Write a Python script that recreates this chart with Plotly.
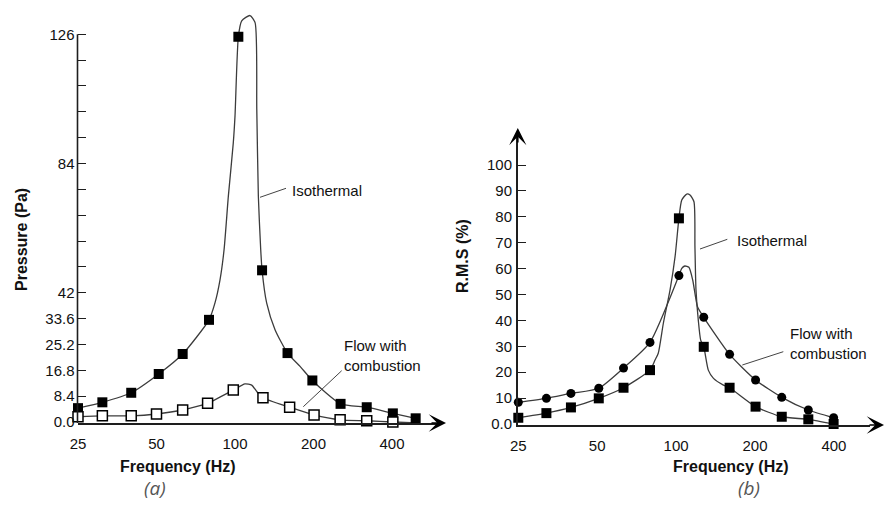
import math
import plotly.graph_objects as go

# ---------------- data ----------------
# Panel (a): pressure amplitude (Pa) vs frequency (Hz)
freq_a_iso = [25, 31, 40, 51, 63, 79.5, 103, 127, 159, 198, 254, 320, 403, 493]
pa_iso = [4.5, 6.4, 9.5, 15.6, 22.1, 33.2, 125.2, 49.3, 22.4, 13.5, 5.9, 4.8, 2.8, 1.2]

freq_a_comb = [25, 31, 40, 50, 63, 78.5, 98.5, 128, 162, 201, 253, 320, 403, 497]
pa_comb = [1.7, 2.0, 2.0, 2.6, 3.9, 6.1, 10.4, 7.9, 4.8, 2.3, 0.7, 0.4, 0.0, -1.0]

# fitted curves drawn through the points (panel a)
curve_a_iso_f = [25, 31, 40, 51, 63, 79.5, 83.8, 87.6, 90.8, 94.3, 98.5, 100, 103, 106.1,
                 114.2, 119.4, 121.2, 122.9, 125.5, 127, 132.3, 142.4, 159, 178, 198, 254, 320, 403, 493]
curve_a_iso_v = [4.5, 6.4, 9.5, 15.6, 22.1, 33.2, 38.7, 46.2, 56, 73.4, 90.7, 99.4, 125.2, 130.4,
                 132.1, 129.8, 101.6, 73.4, 56, 49.3, 38.6, 30, 22.4, 18, 13.5, 5.9, 4.8, 2.8, 1.2]

curve_a_comb_f = [25, 31, 40, 50, 63, 78.5, 98.5, 109.2, 115.9, 121.2, 128, 162, 201, 253, 320, 403, 497]
curve_a_comb_v = [1.7, 2.0, 2.0, 2.6, 3.9, 6.1, 10.4, 12.4, 12.0, 9.9, 7.9, 4.8, 2.3, 0.7, 0.4, 0.0, -0.3]

# Panel (b): R.M.S (%) vs frequency (Hz)
freq_b = [25, 32, 39.7, 50.7, 63, 79.5, 102.5, 127.5, 160, 201, 253, 319.5, 399]
rms_iso = [2.4, 4.2, 6.4, 9.9, 14.0, 20.8, 79.4, 29.8, 14.0, 6.7, 2.8, 1.8, 0.0]
rms_comb = [8.4, 9.9, 11.8, 13.8, 21.6, 31.5, 57.3, 41.2, 26.9, 17.0, 10.3, 5.4, 2.4]

curve_b_iso_f = [25, 32, 39.7, 50.7, 63, 79.5, 83.1, 85.5, 89.4, 94.8, 99.1, 102.5, 105.1, 109.8,
                 113.0, 117.0, 118.0, 119.1, 121.5, 124.1, 127.5, 132.7, 138.9, 151, 160, 201, 253, 319.5, 399]
curve_b_iso_v = [2.4, 4.2, 6.4, 9.9, 14.0, 20.8, 24.7, 27.3, 38.9, 51.7, 64.6, 79.4, 86.5, 88.8,
                 88.4, 85.8, 68.5, 51.7, 40.2, 32.4, 29.8, 20.8, 17.6, 15.1, 14.0, 6.7, 2.8, 1.8, 0.0]

curve_b_comb_f = [25, 32, 39.7, 50.7, 63, 79.5, 102.5, 105.1, 108, 111.9, 115.7, 120.7, 127.5,
                  160, 201, 253, 319.5, 399]
curve_b_comb_v = [8.4, 9.9, 11.8, 13.8, 21.6, 31.5, 57.3, 60.1, 61.0, 60.5, 55.6, 45.3, 41.2,
                  26.9, 17.0, 10.3, 5.4, 2.4]

# tick labels
freq_ticks = [25, 50, 100, 200, 400]
freq_ticktext = ["25", "50", "100", "200", "400"]
pa_ticks = [0, 8.4, 16.8, 25.2, 33.6, 42, 50.4, 58.8, 67.2, 75.6, 84, 92.4, 100.8, 109.2, 117.6, 126]
pa_ticktext = ["0.0", "8.4", "16.8", "25.2", "33.6", "42", "", "", "", "", "84", "", "", "", "", "126"]
rms_ticks = [0, 10, 20, 30, 40, 50, 60, 70, 80, 90, 100]
rms_ticktext = ["0.0", "10", "20", "30", "40", "50", "60", "70", "80", "90", "100"]

# ---------------- layout helpers ----------------
W, H = 885, 516


def px(x):
    return x / W


def py(y):
    return 1 - y / H


FONT = "Liberation Sans, Arial, Helvetica, sans-serif"
LINE_C = "#3c3c3c"
AX_C = "#1e1e1e"

fig = go.Figure()

spl = dict(shape="spline", smoothing=0.6)

# panel (a)
fig.add_trace(go.Scatter(x=curve_a_iso_f, y=curve_a_iso_v, mode="lines",
                         line=dict(color=LINE_C, width=1.3, **spl), xaxis="x", yaxis="y", hoverinfo="skip"))
fig.add_trace(go.Scatter(x=curve_a_comb_f, y=curve_a_comb_v, mode="lines",
                         line=dict(color=LINE_C, width=1.3, **spl), xaxis="x", yaxis="y", hoverinfo="skip"))
fig.add_trace(go.Scatter(x=freq_a_iso, y=pa_iso, mode="markers", cliponaxis=False,
                         marker=dict(symbol="square", size=10, color="black"), xaxis="x", yaxis="y"))
fig.add_trace(go.Scatter(x=freq_a_comb, y=pa_comb, mode="markers", cliponaxis=False,
                         marker=dict(symbol="square", size=10, color="white", line=dict(color="black", width=1.5)),
                         xaxis="x", yaxis="y"))

# panel (b)
fig.add_trace(go.Scatter(x=curve_b_iso_f, y=curve_b_iso_v, mode="lines",
                         line=dict(color=LINE_C, width=1.3, **spl), xaxis="x2", yaxis="y2", hoverinfo="skip"))
fig.add_trace(go.Scatter(x=curve_b_comb_f, y=curve_b_comb_v, mode="lines",
                         line=dict(color=LINE_C, width=1.3, **spl), xaxis="x2", yaxis="y2", hoverinfo="skip"))
fig.add_trace(go.Scatter(x=freq_b, y=rms_iso, mode="markers", cliponaxis=False,
                         marker=dict(symbol="square", size=10, color="black"), xaxis="x2", yaxis="y2"))
fig.add_trace(go.Scatter(x=freq_b, y=rms_comb, mode="markers", cliponaxis=False,
                         marker=dict(symbol="circle", size=9, color="black"), xaxis="x2", yaxis="y2"))

tickfont = dict(family=FONT, size=15, color="#111")

# axis geometry (pixel positions of the original)
a_x0, a_x1 = 77.5, 440
a_y_bottom, a_y_top = 423, 8
a_ppu = 3.077  # px per Pa, 0 at 422
b_x0, b_x1 = 517.8, 870
b_y_bottom, b_y_top = 425, 135
b_ppu = 2.59  # px per %, 0 at 424

fig.update_layout(
    width=W, height=H, margin=dict(l=0, r=0, t=0, b=0, pad=0, autoexpand=False),
    paper_bgcolor="white", plot_bgcolor="white", showlegend=False,
    xaxis=dict(type="log", domain=[px(a_x0), px(a_x1)],
               range=[math.log10(25 * 2 ** ((a_x0 - 78) / 78.5)), math.log10(25 * 2 ** ((a_x1 - 78) / 78.5))],
               tickmode="array", tickvals=freq_ticks, ticktext=freq_ticktext, ticks="",
               showline=True, linecolor=AX_C, linewidth=1.6, showgrid=False, zeroline=False,
               tickfont=tickfont, ticklabelstandoff=6, anchor="y", automargin=False),
    yaxis=dict(domain=[py(a_y_bottom), py(a_y_top)],
               range=[(422 - a_y_bottom) / a_ppu, (422 - a_y_top) / a_ppu],
               tickmode="array", tickvals=pa_ticks, ticktext=pa_ticktext,
               ticks="inside", ticklen=8, tickwidth=1.2, tickcolor=AX_C,
               showline=False, showgrid=False, zeroline=False, tickfont=tickfont,
               ticklabelstandoff=2, anchor="x", automargin=False),
    xaxis2=dict(type="log", domain=[px(b_x0), px(b_x1)],
                range=[math.log10(25 * 2 ** ((b_x0 - 518.3) / 78.9)), math.log10(25 * 2 ** ((b_x1 - 518.3) / 78.9))],
                tickmode="array", tickvals=freq_ticks, ticktext=freq_ticktext, ticks="",
                showline=True, linecolor=AX_C, linewidth=1.6, showgrid=False, zeroline=False,
                tickfont=tickfont, ticklabelstandoff=6, anchor="y2", automargin=False),
    yaxis2=dict(domain=[py(b_y_bottom), py(b_y_top)],
                range=[(424 - b_y_bottom) / b_ppu, (424 - b_y_top) / b_ppu],
                tickmode="array", tickvals=rms_ticks, ticktext=rms_ticktext,
                ticks="inside", ticklen=8, tickwidth=1.2, tickcolor=AX_C,
                showline=True, linecolor=AX_C, linewidth=1.6, showgrid=False, zeroline=False,
                tickfont=tickfont, ticklabelstandoff=1, anchor="x2", automargin=False),
)

# left y-axis line stops at 126
fig.add_shape(type="line", xref="paper", yref="y", x0=px(a_x0), x1=px(a_x0), y0=(422 - a_y_bottom) / a_ppu,
              y1=126, line=dict(color=AX_C, width=1.6))

# leader lines for labels
leaders = [((260, 197.3), (286, 188.3)), ((303.3, 406.7), (341.7, 370.7)),
           ((700, 249), (727.3, 239.3)), ((742.3, 365), (783.3, 351.7))]
for (x0, y0), (x1, y1) in leaders:
    fig.add_shape(type="line", xref="paper", yref="paper", x0=px(x0), y0=py(y0), x1=px(x1), y1=py(y1),
                  line=dict(color="#444", width=1))

ann = []
# axis arrows
arrow = dict(xref="paper", yref="paper", text="", showarrow=True, arrowhead=3, arrowsize=1.8,
             arrowwidth=1.6, arrowcolor="black", standoff=0)
ann.append(dict(x=px(446), y=py(423), ax=-16, ay=0, **arrow))
ann.append(dict(x=px(884), y=py(425), ax=-16, ay=0, **arrow))
ann.append(dict(x=px(b_x0), y=py(128), ax=0, ay=16, **arrow))

lab = dict(xref="paper", yref="paper", showarrow=False)
titlefont = dict(family=FONT, size=16, color="#111")
ann.append(dict(x=px(22), y=py(240), text="<b>Pressure (Pa)</b>", textangle=-90, font=titlefont,
                xanchor="center", yanchor="middle", **lab))
ann.append(dict(x=px(462), y=py(256), text="<b>R.M.S (%)</b>", textangle=-90, font=titlefont,
                xanchor="center", yanchor="middle", **lab))
ann.append(dict(x=px(178), y=py(466), text="<b>Frequency (Hz)</b>", font=titlefont,
                xanchor="center", yanchor="middle", **lab))
ann.append(dict(x=px(731), y=py(466), text="<b>Frequency (Hz)</b>", font=titlefont,
                xanchor="center", yanchor="middle", **lab))

capfont = dict(family="Open Sans, sans-serif", size=19, color="#555")
ann.append(dict(x=px(155), y=py(488), text="<i>(a)</i>", font=capfont, xanchor="center", yanchor="middle", **lab))
ann.append(dict(x=px(749), y=py(488), text="<i>(b)</i>", font=capfont, xanchor="center", yanchor="middle", **lab))

txtfont = dict(family=FONT, size=15, color="#111")
ann.append(dict(x=px(290), y=py(190.7), text="Isothermal", font=txtfont, xanchor="left", yanchor="middle", **lab))
ann.append(dict(x=px(734.5), y=py(240.7), text="Isothermal", font=txtfont, xanchor="left", yanchor="middle", **lab))
ann.append(dict(x=px(342), y=py(355), text="Flow with<br>combustion", font=txtfont, align="left",
                xanchor="left", yanchor="middle", **lab))
ann.append(dict(x=px(787.5), y=py(343), text="Flow with<br>combustion", font=txtfont, align="left",
                xanchor="left", yanchor="middle", **lab))

fig.update_layout(annotations=ann)

fig.write_html("out.html")
